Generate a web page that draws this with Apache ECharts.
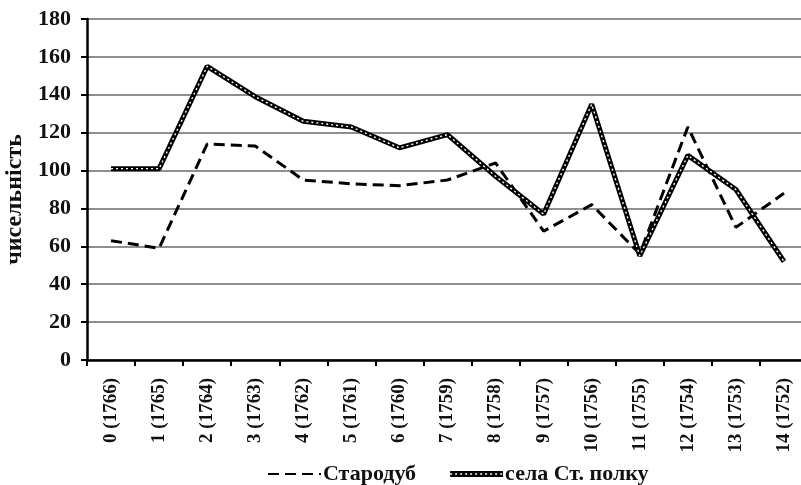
<!DOCTYPE html>
<html>
<head>
<meta charset="utf-8">
<script src="https://cdn.jsdelivr.net/npm/echarts@6/dist/echarts.min.js"></script>
<style>
html,body{margin:0;padding:0;background:#fff;}
#chart{width:801px;height:485px;}
</style>
</head>
<body>
<div id="chart"></div>
<script>
var categories = ['0 (1766)','1 (1765)','2 (1764)','3 (1763)','4 (1762)','5 (1761)','6 (1760)','7 (1759)','8 (1758)','9 (1757)','10 (1756)','11 (1755)','12 (1754)','13 (1753)','14 (1752)'];
var starodub = [63, 59, 114, 113, 95, 93, 92, 95, 104, 68, 82, 56, 123, 70, 88];
var sela = [101, 101, 155, 139, 126, 123, 112, 119, 97, 77, 135, 55, 108, 90, 52];
var yTicks = [0, 20, 40, 60, 80, 100, 120, 140, 160, 180];
var seriesNames = ['Стародуб', 'села Ст. полку'];
var yName = 'чисельність';

var FONT = '"Liberation Serif", "Times New Roman", serif';
var selaIconSvg = "<svg xmlns='http://www.w3.org/2000/svg' width='53' height='6' viewBox='0 0 53 6'>" +
  "<rect x='0' y='0' width='53' height='6' fill='black'/>" +
  "<line x1='0' y1='3' x2='53' y2='3' stroke='white' stroke-width='1.4' stroke-dasharray='2,3'/></svg>";
var selaIcon = 'image://data:image/svg+xml;charset=utf-8,' + encodeURIComponent(selaIconSvg);

var chart = echarts.init(document.getElementById('chart'), null, {renderer: 'canvas'});
chart.setOption({
  animation: false,
  backgroundColor: '#ffffff',
  grid: {left: 87, right: -7, top: 19, bottom: 125, containLabel: false, outerBoundsMode: 'none'},
  legend: {
    data: [
      {name: seriesNames[0], itemStyle: {opacity: 0}},
      {name: seriesNames[1], icon: selaIcon, itemStyle: {opacity: 1}}
    ],
    left: 262, top: 458,
    itemWidth: 53, itemHeight: 12, itemGap: 34,
    textStyle: {fontFamily: FONT, fontWeight: 'bold', fontSize: 22, color: '#111', padding: [0,0,0,-3]}
  },
  xAxis: {
    type: 'category',
    data: categories,
    boundaryGap: true,
    axisLine: {lineStyle: {color: '#000', width: 2.5}},
    axisTick: {show: true, length: 6, lineStyle: {color: '#000', width: 2}},
    axisLabel: {rotate: 90, margin: 18, interval: 0, fontFamily: FONT, fontWeight: 'bold', fontSize: 19, color: '#111'},
    splitLine: {show: false}
  },
  yAxis: {
    type: 'value',
    min: yTicks[0], max: yTicks[yTicks.length-1], interval: 20,
    name: yName,
    nameLocation: 'middle',
    nameRotate: 90,
    nameGap: 60,
    nameMoveOverlap: false,
    nameTextStyle: {fontFamily: FONT, fontWeight: 'bold', fontSize: 24, color: '#111', padding: [0, 20, 0, 0]},
    axisLine: {show: true, lineStyle: {color: '#000', width: 2.5}},
    axisTick: {show: true, length: 6, lineStyle: {color: '#000', width: 2}},
    axisLabel: {margin: 16, fontFamily: FONT, fontWeight: 'bold', fontSize: 22, color: '#111'},
    splitLine: {show: true, lineStyle: {color: '#8f8f8f', width: 2}}
  },
  series: [
    {
      name: seriesNames[0], type: 'line', data: starodub, showSymbol: false, symbol: 'none',
      lineStyle: {color: '#000', width: 3, type: [11, 6]},
      itemStyle: {color: '#000'}, z: 3
    },
    {
      name: seriesNames[1], type: 'line', data: sela, showSymbol: false, symbol: 'none',
      lineStyle: {color: '#000', width: 5},
      itemStyle: {color: '#000'}, z: 4
    },
    {
      name: 'overlay', type: 'line', data: sela, showSymbol: false, symbol: 'none',
      lineStyle: {color: '#fff', width: 1.4, type: [2, 3]},
      itemStyle: {color: '#fff'}, z: 5, silent: true
    }
  ]
});
</script>
</body>
</html>
